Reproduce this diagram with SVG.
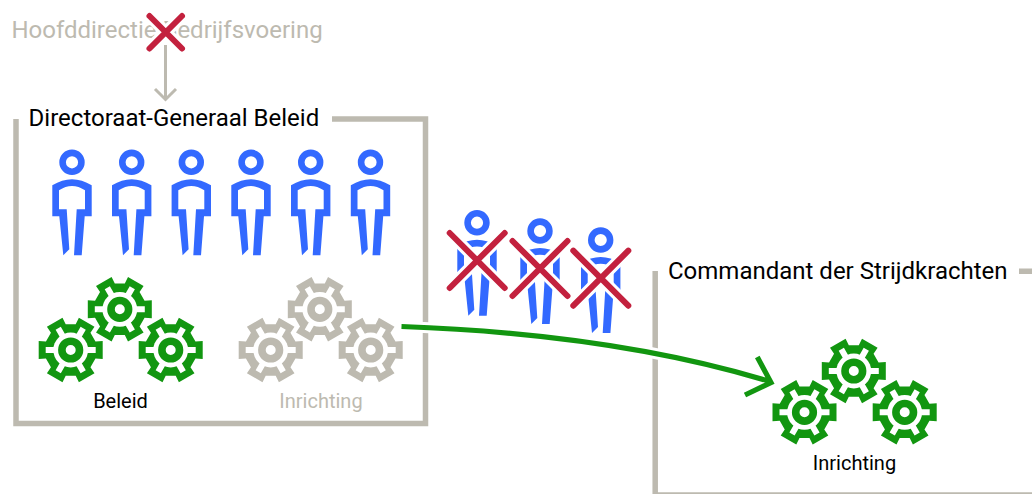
<svg xmlns="http://www.w3.org/2000/svg" width="1032" height="494" viewBox="0 0 1032 494">
<style>
text{font-family:Roboto,"Liberation Sans",sans-serif}
.t{font-size:24px;fill:#000}
.s{font-size:20px;text-anchor:middle;fill:#000}
.g{fill:#bdbab0}
.frame{fill:none;stroke:#bdbab0;stroke-width:5.5}
.arm{stroke:#fff;stroke-width:6;fill:none}
.cas{stroke:#fff;stroke-width:12;stroke-linecap:round;fill:none}
.x{stroke:#c3213e;stroke-width:6;stroke-linecap:round;fill:none}
.gr{color:#129610}
.gy{color:#bdbab0}
</style>
<defs>
<g id="person">
<circle r="9.4" cx="0" cy="0" fill="none" stroke="#3369ff" stroke-width="6.6"/>
<path fill="#3369ff" d="M-19.7 23Q0 11 19.7 23V54H12.7L9.7 93H2L4.7 47H13V28Q0 19.4-13 28V47H-5.3L-2.7 87L-8.7 93L-12.7 54H-19.7Z"/>
</g>
<g id="gear">
<path fill="currentColor" d="M32-9V9L24.76 8.52L19.76 17.18L23.79 23.21L8.21 32.21L5 25.7H-5L-8.21 32.21L-23.79 23.21L-19.76 17.18L-24.76 8.52L-32 9V-9L-24.76-8.52L-19.76-17.18L-23.79-23.21L-8.21-32.21L-5-25.7H5L8.21-32.21L23.79-23.21L19.76-17.18L24.76-8.52Z"/>
<circle r="17.400" fill="#fff"/>
<path class="arm" d="M-25 0H25M-12.5-21.65L12.5 21.65M12.5-21.65L-12.5 21.65"/>
<circle r="8.800" fill="#fff" stroke="currentColor" stroke-width="7.600"/>
</g>
<g id="cross">
<path class="cas" d="M-27.5-27.5L27.5 27.5M27.5-27.5L-27.5 27.5"/>
<path class="x" d="M-27.5-27.5L27.5 27.5M27.5-27.5L-27.5 27.5"/>
</g>
</defs>
<rect width="1032" height="494" fill="#fff"/>
<g id="hoofddirectie">
<text class="t g" x="11.400" y="38">Hoofddirectie Bedrijfsvoering</text>
<path class="cas" d="M149.500 16L182 48.500M182 16L149.500 48.500"/>
<path class="x" d="M149.500 16L182 48.500M182 16L149.500 48.500"/>
</g>
<g id="directoraat">
<path class="frame" d="M16 119V423.500H425.500V119H332"/>
<text class="t" x="28.600" y="126">Directoraat-Generaal Beleid</text>
<use href="#person" x="72" y="162.300"/>
<use href="#person" x="131.700" y="162.300"/>
<use href="#person" x="191.300" y="162.300"/>
<use href="#person" x="251" y="162.300"/>
<use href="#person" x="310.700" y="162.300"/>
<use href="#person" x="370.500" y="162.300"/>
</g>
<g id="beleid" class="gr">
<use href="#gear" x="70.700" y="350"/>
<use href="#gear" x="119.800" y="309.300"/>
<use href="#gear" x="170.700" y="350"/>
<text class="s" x="120.500" y="407.500">Beleid</text>
</g>
<g id="inrichting-oud" class="gy">
<use href="#gear" x="270.700" y="350"/>
<use href="#gear" x="319.800" y="309.300"/>
<use href="#gear" x="370.700" y="350"/>
<text class="s g" x="321" y="407.500">Inrichting</text>
</g>
<g id="verplaatst">
<use href="#person" x="477" y="222.700"/>
<use href="#person" x="540" y="231"/>
<use href="#person" x="600.700" y="240"/>
<use href="#cross" x="477.200" y="260.500"/>
<use href="#cross" x="540" y="268.500"/>
<use href="#cross" x="600.800" y="278.200"/>
</g>
<g id="commandant">
<path class="frame" d="M655.200 271V495H1032M1019 271.300H1032"/>
<text class="t" x="668" y="279">Commandant der Strijdkrachten</text>
</g>
<g id="inrichting-nieuw" class="gr">
<use href="#gear" x="804.500" y="412.300"/>
<use href="#gear" x="853.800" y="371"/>
<use href="#gear" x="904.700" y="412.300"/>
<text class="s" x="854.500" y="469.500">Inrichting</text>
</g>
<g id="connectors">
<path d="M165.500 45V99M155 89L165.500 99.500L176 89" fill="none" stroke="#bdbab0" stroke-width="3"/>
<path d="M401.500 326.500C500 330 640 342 770 381.500" fill="none" stroke="#fff" stroke-width="11"/>
<path d="M401.500 326.500C500 330 640 342 770 381.500M757.300 357L771 382.500L745 395" fill="none" stroke="#129610" stroke-width="5.200"/>
</g>
</svg>
